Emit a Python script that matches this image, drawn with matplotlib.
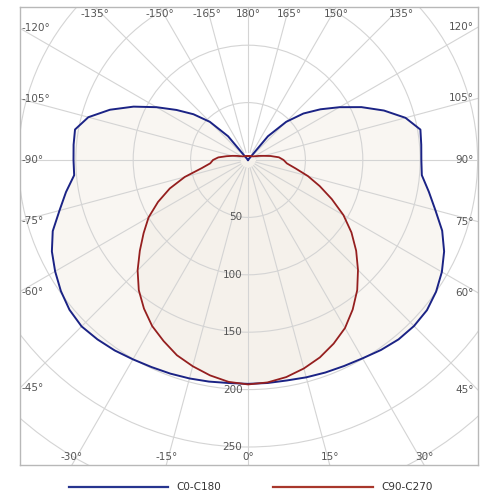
import numpy as np
import matplotlib
matplotlib.use("Agg")
import matplotlib.pyplot as plt
from matplotlib.patches import Polygon, Circle
from matplotlib.lines import Line2D

# ---------------- data (luminous intensity, cd/klm) ----------------
gamma = list(range(0, 181, 5))  # gamma angle from nadir, degrees

c0 = [195, 195, 195, 196, 197, 198, 199.5, 202, 204, 204.5, 203.5, 200, 195,
      188.5, 180, 169, 160, 152, 151, 151.5, 152.5, 142, 126, 109, 92, 77,
      63, 47, 27, 0, 0, 0, 0, 0, 0, 0, 0]
c180 = [195, 195, 196, 197, 198, 199, 200.5, 202.5, 204, 205, 203, 199, 194,
        188.5, 181, 170, 161, 152, 152, 152.5, 153, 144, 128, 110, 92, 76,
        62, 47, 27, 0, 0, 0, 0, 0, 0, 0, 0]
c90 = [195.5, 194.5, 192, 188, 183, 176.5, 169, 159, 148, 135.5, 123, 110, 96,
       80.5, 66.5, 54, 42, 34, 31, 27, 20, 14, 10.5, 8, 6.5, 5.5, 5, 4.5, 4.5,
       4, 4, 4, 3.5, 3.5, 3.5, 3.5, 3.5]
c270 = [195.5, 194, 190.5, 186, 181, 174, 167, 158, 148, 136, 123, 111, 100,
        86.5, 72.5, 57, 41, 33, 30.5, 26, 19, 14, 10.5, 8, 6.5, 5.5, 5, 4.5,
        4.5, 4, 4, 4, 3.5, 3.5, 3.5, 3.5, 3.5]

radial_ticks = [50, 100, 150, 200, 250]
grid_radii = [50, 100, 150, 200, 250, 300]
angle_ticks = list(range(-165, 181, 15))
series_names = ["C0-C180", "C90-C270"]

# ---------------- style ----------------
BLUE = "#1b2385"
RED = "#951f1f"
GRID = "#d4d4d4"
FILL_OUT = "#f9f6f2"
FILL_IN = "#f5f1eb"
TXT = "#555555"
FONT = "DejaVu Sans"

fig = plt.figure(figsize=(5, 5), dpi=100)
fig.patch.set_facecolor("white")
ax = fig.add_axes([20 / 500, 35 / 500, 458 / 500, 458 / 500])
s = 1.148  # pixels per cd unit
xmin, xmax = -228 / s, 230 / s
ymin, ymax = -305 / s, 153 / s
ax.set_xlim(xmin, xmax)
ax.set_ylim(ymin, ymax)
ax.set_aspect("equal", adjustable="box")
ax.set_xticks([])
ax.set_yticks([])
for sp in ax.spines.values():
    sp.set_color("#b8b8b8")
    sp.set_linewidth(1.0)


def xy(angles_deg, vals):
    a = np.radians(np.asarray(angles_deg, dtype=float))
    r = np.asarray(vals, dtype=float)
    return r * np.sin(a), -r * np.cos(a)


def closed_curve(left, right):
    g = np.asarray(gamma, dtype=float)
    ang = np.concatenate([-g[::-1], g[1:]])
    val = np.concatenate([np.asarray(left)[::-1], np.asarray(right)[1:]])
    return xy(ang, val)


bx, by = closed_curve(c180, c0)
rx, ry = closed_curve(c270, c90)

ax.add_patch(Polygon(np.column_stack([bx, by]), closed=True, fc=FILL_OUT,
                     ec="none", zorder=1))
ax.add_patch(Polygon(np.column_stack([rx, ry]), closed=True, fc=FILL_IN,
                     ec="none", zorder=1.1))

# grid circles
for r in grid_radii:
    ax.add_patch(Circle((0, 0), r, fill=False, ec=GRID, lw=0.8, zorder=2))
# radial lines
for a in range(0, 360, 15):
    gx, gy = xy([a, a], [7, 450])
    ax.plot(gx, gy, color=GRID, lw=0.8, zorder=2)

# curves
ax.plot(bx, by, color=BLUE, lw=1.4, zorder=4, solid_joinstyle="round")
ax.plot(rx, ry, color=RED, lw=1.3, zorder=5, solid_joinstyle="round")

# radial labels
for r in radial_ticks:
    ax.annotate(str(r), xy=(0, -r), xytext=(-4, 0), textcoords="offset points",
                ha="right", va="center", fontsize=7.5, color=TXT,
                family=FONT, zorder=6)

# angle labels on the frame
pt = 0.72
for a in angle_ticks:
    dx, dy = np.sin(np.radians(a)), -np.cos(np.radians(a))
    cands = []
    if dx > 1e-9:
        cands.append((xmax / dx, "right"))
    if dx < -1e-9:
        cands.append((xmin / dx, "left"))
    if dy > 1e-9:
        cands.append((ymax / dy, "top"))
    if dy < -1e-9:
        cands.append((ymin / dy, "bottom"))
    t, edge = min(cands)
    px, py = t * dx, t * dy
    if edge == "top":
        off, ha = (0, -7 * pt), "center"
    elif edge == "bottom":
        off, ha = (0, 8 * pt), "center"
    elif edge == "left":
        off, ha = (2 * pt, 0), "left"
    else:
        off, ha = (-4 * pt, 0), "right"
    ax.annotate(f"{a}\u00b0", xy=(px, py), xytext=off,
                textcoords="offset points", ha=ha, va="center",
                fontsize=7.5, color=TXT, family=FONT, zorder=6,
                annotation_clip=False)

# legend below
fig.add_artist(Line2D([69 / 500, 168 / 500], [13 / 500, 13 / 500],
                      color="#27358f", lw=1.6))
fig.text(176 / 500, 13 / 500, series_names[0], ha="left", va="center",
         fontsize=7.5, color="#333333", family=FONT)
fig.add_artist(Line2D([273 / 500, 373 / 500], [13 / 500, 13 / 500],
                      color="#a8372c", lw=1.6))
fig.text(381 / 500, 13 / 500, series_names[1], ha="left", va="center",
         fontsize=7.5, color="#333333", family=FONT)

fig.savefig("out.png", dpi=100, facecolor="white")
